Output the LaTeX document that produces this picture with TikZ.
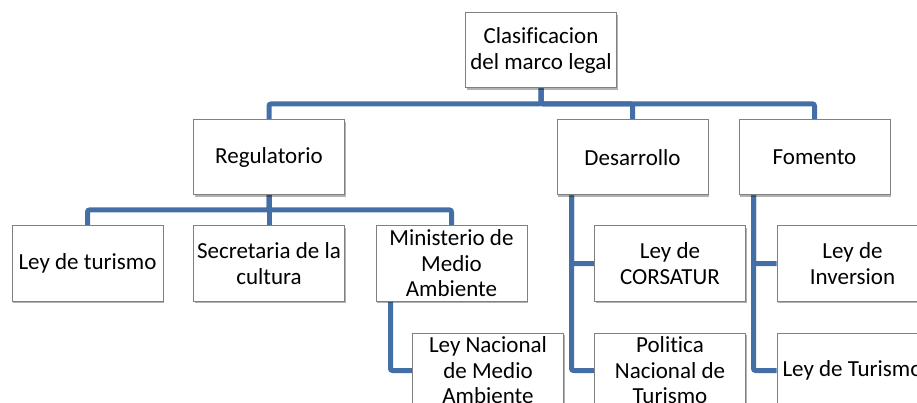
\documentclass[tikz,border=0pt]{standalone}
\usepackage{fontspec}
\setmainfont{Carlito}[Ligatures={NoCommon}]
\usetikzlibrary{shadows,backgrounds,calc}
\definecolor{connblue}{RGB}{68,110,166}
\definecolor{boxgray}{RGB}{128,128,128}
\begin{document}
\begin{tikzpicture}[x=1pt,y=-1pt,
  box/.style={draw=boxgray, line width=1pt, fill=white, minimum width=151pt, minimum height=75pt,
    inner sep=2pt, align=center, font=\fontsize{23}{25.5}\selectfont,
    drop shadow={shadow xshift=1.2pt, shadow yshift=-2pt, opacity=0.3, fill=black}},
  conn/.style={draw=connblue, line width=5pt, rounded corners=2pt}]
\useasboundingbox (0,0) rectangle (917,403);
\clip (0,0) rectangle (917,403);
% level 0
\node[box] (root) at (541,50.5) {Clasificacion\\del marco legal};
% level 1
\node[box] (reg) at (269,157.5) {Regulatorio};
\node[box] (des) at (632.5,157.5) {Desarrollo};
\node[box] (fom) at (814.5,157.5) {Fomento};
% level 2
\node[box] (lt) at (87.5,263.5) {Ley de turismo};
\node[box] (sec) at (269,263.5) {Secretaria de la\\cultura};
\node[box] (min) at (451.5,263.5) {Ministerio de\\Medio\\Ambiente};
\node[box] (leynac) at (488,370.5) {Ley Nacional\\de Medio\\Ambiente};
\node[box] (cors) at (670,263.5) {Ley de\\CORSATUR};
\node[box] (pol) at (670,370.5) {Politica\\Nacional de\\Turismo};
\node[box] (inv) at (852.5,263.5) {Ley de\\Inversion};
\node[box] (lturismo) at (852.5,370.5) {Ley de Turismo};
% bus coordinates
\coordinate (b1) at (0,104);
\coordinate (b2) at (0,210);
\coordinate (mstem) at ($(min.south west)+(15,0)$);
\coordinate (dstem) at ($(des.south west)+(15,0)$);
\coordinate (fstem) at ($(fom.south west)+(15,0)$);
\begin{pgfonlayer}{background}
\draw[conn] (root.south) -- (root.south |- b1) -| (reg.north);
\draw[conn] (root.south) -- (root.south |- b1) -| (des.north);
\draw[conn] (root.south) -- (root.south |- b1) -| (fom.north);
\draw[conn] (reg.south) -- (reg.south |- b2) -| (lt.north);
\draw[conn] (reg.south) -- (sec.north);
\draw[conn] (reg.south) -- (reg.south |- b2) -| (min.north);
\draw[conn] (mstem) |- (leynac.west);
\draw[conn] (dstem) |- (cors.west);
\draw[conn] (dstem) |- (pol.west);
\draw[conn] (fstem) |- (inv.west);
\draw[conn] (fstem) |- (lturismo.west);
\end{pgfonlayer}
\end{tikzpicture}
\end{document}
